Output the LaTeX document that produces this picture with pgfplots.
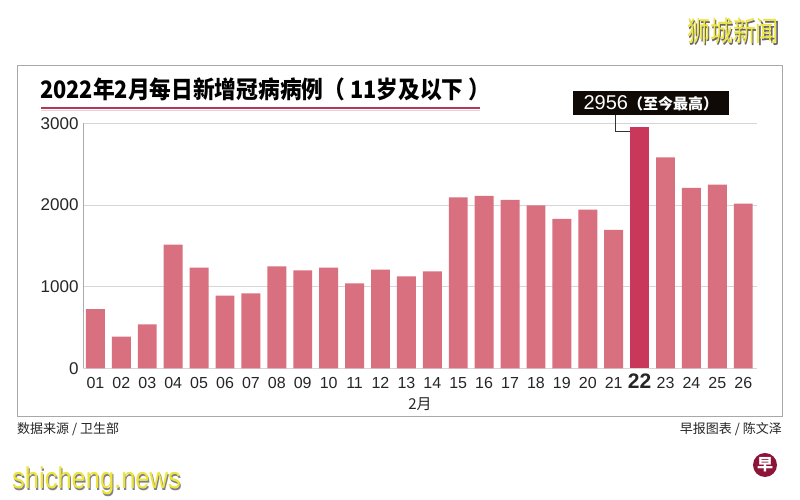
\documentclass[border=0pt]{standalone}
\usepackage{fontspec}
\setmainfont{Noto Sans CJK SC}
\newfontfamily\lat{Liberation Sans}
\usepackage{pgfplots}
\pgfplotsset{compat=1.18}
\definecolor{barc}{HTML}{D9707F}
\definecolor{barhi}{HTML}{C9385A}
\definecolor{frame}{HTML}{A8A8A8}
\definecolor{gridc}{HTML}{D6D6D6}
\definecolor{uline}{HTML}{B03A55}
\definecolor{wm}{HTML}{EDE33A}
\definecolor{logo}{HTML}{8E1538}
\begin{document}
\begin{tikzpicture}
\useasboundingbox (0,0) rectangle (800bp,500bp);
\fill[white] (0,0) rectangle (800bp,500bp);
\begin{scope}[x=1bp,y=-1bp,yshift=500bp]
  \draw[frame, line width=1bp] (17,66) rectangle (782,417);
  \node[anchor=west, inner sep=0, xscale=0.905, font=\fontsize{24bp}{28bp}\selectfont\bfseries] at (40,89) {2022年2月每日新增冠病病例（ 11岁及以下 ）};
  \draw[uline, line width=2bp] (41,108) -- (480,108);
  \draw[uline!25, line width=1bp] (41,110.5) -- (480,110.5);
  \node[anchor=west, inner sep=0, text=black!85, font=\fontsize{13bp}{15bp}\selectfont] at (17,429) {数据来源 / 卫生部};
  \node[anchor=east, inner sep=0, text=black!85, font=\fontsize{13bp}{15bp}\selectfont] at (782,429) {早报图表 / 陈文泽};
  \node[text=black!60, inner sep=0, xscale=0.82, font=\fontsize{28bp}{30bp}\selectfont] at (734.5,32.5) {狮城新闻};
  \node[text=wm, inner sep=0, xscale=0.82, font=\fontsize{28bp}{30bp}\selectfont] at (733,31) {狮城新闻};
  \node[text=black!50, inner sep=0, anchor=west, xscale=0.85, font=\lat\fontsize{30bp}{32bp}\selectfont] at (13,482.5) {shicheng.news};
  \node[text=wm, inner sep=0, anchor=west, xscale=0.85, font=\lat\fontsize{30bp}{32bp}\selectfont] at (12,481) {shicheng.news};
  \fill[logo] (765,465) circle (12);
  \node[text=white, inner sep=0, font=\fontsize{16bp}{16bp}\selectfont\bfseries] at (765,465) {早};
\end{scope}
\begin{axis}[
  at={(83bp,131.7bp)}, anchor=south west,
  scale only axis, width=674bp, height=245bp,
  xmin=-0.48, xmax=25.53, ymin=0, ymax=3000,
  clip=false,
  axis x line*=bottom, axis y line*=left,
  x axis line style={draw=none},
  y axis line style={draw=gridc!80!black, -},
  ymajorgrids, grid style={gridc, line width=0.8bp},
  major tick length=0pt,
  ytick={0,1000,2000,3000},
  yticklabel style={font=\lat\fontsize{17bp}{17bp}\selectfont, text=black!85, xshift=-1bp},
  /pgf/number format/assume math mode=true,
  /pgf/number format/1000 sep={},
  xtick={0,...,25},
  xticklabels={01,02,03,04,05,06,07,08,09,10,11,12,13,14,15,16,17,18,19,20,21,{\fontsize{21bp}{21bp}\selectfont\bfseries 22},23,24,25,26},
  xticklabel style={font=\lat\fontsize{16bp}{16bp}\selectfont, text=black!85, anchor=base, yshift=-20bp},
  xlabel={2月},
  xlabel style={font=\fontsize{15bp}{15bp}\selectfont, text=black!85, anchor=base, at={(axis description cs:0.5,0)}, yshift=-41bp},
]
\addplot[ybar, bar width=0.73, bar shift=0pt, fill=barc, draw=none] coordinates {
(0,726) (1,388) (2,539) (3,1514) (4,1233) (5,890) (6,918) (7,1249) (8,1200) (9,1233)
(10,1041) (11,1208) (12,1127) (13,1188) (14,2094) (15,2110) (16,2061) (17,1996) (18,1829) (19,1943)
(20,1694) (22,2584) (23,2208) (24,2249) (25,2016)
};
\addplot[ybar, bar width=0.73, bar shift=0pt, fill=barhi, draw=none] coordinates {(21,2956)};
\draw[black!80, line width=0.9bp] (axis cs:20.64,2897) -| (axis cs:20.05,3101);
\node[fill=black!92!brown, text=white, inner sep=0, minimum width=156bp, minimum height=24bp] at (axis cs:21.43,3249)
  {\lat\fontsize{20bp}{20bp}\selectfont 2956\fontspec{Noto Sans CJK SC}\fontsize{15bp}{15bp}\selectfont\bfseries（至今最高）};
\end{axis}
\end{tikzpicture}
\end{document}
